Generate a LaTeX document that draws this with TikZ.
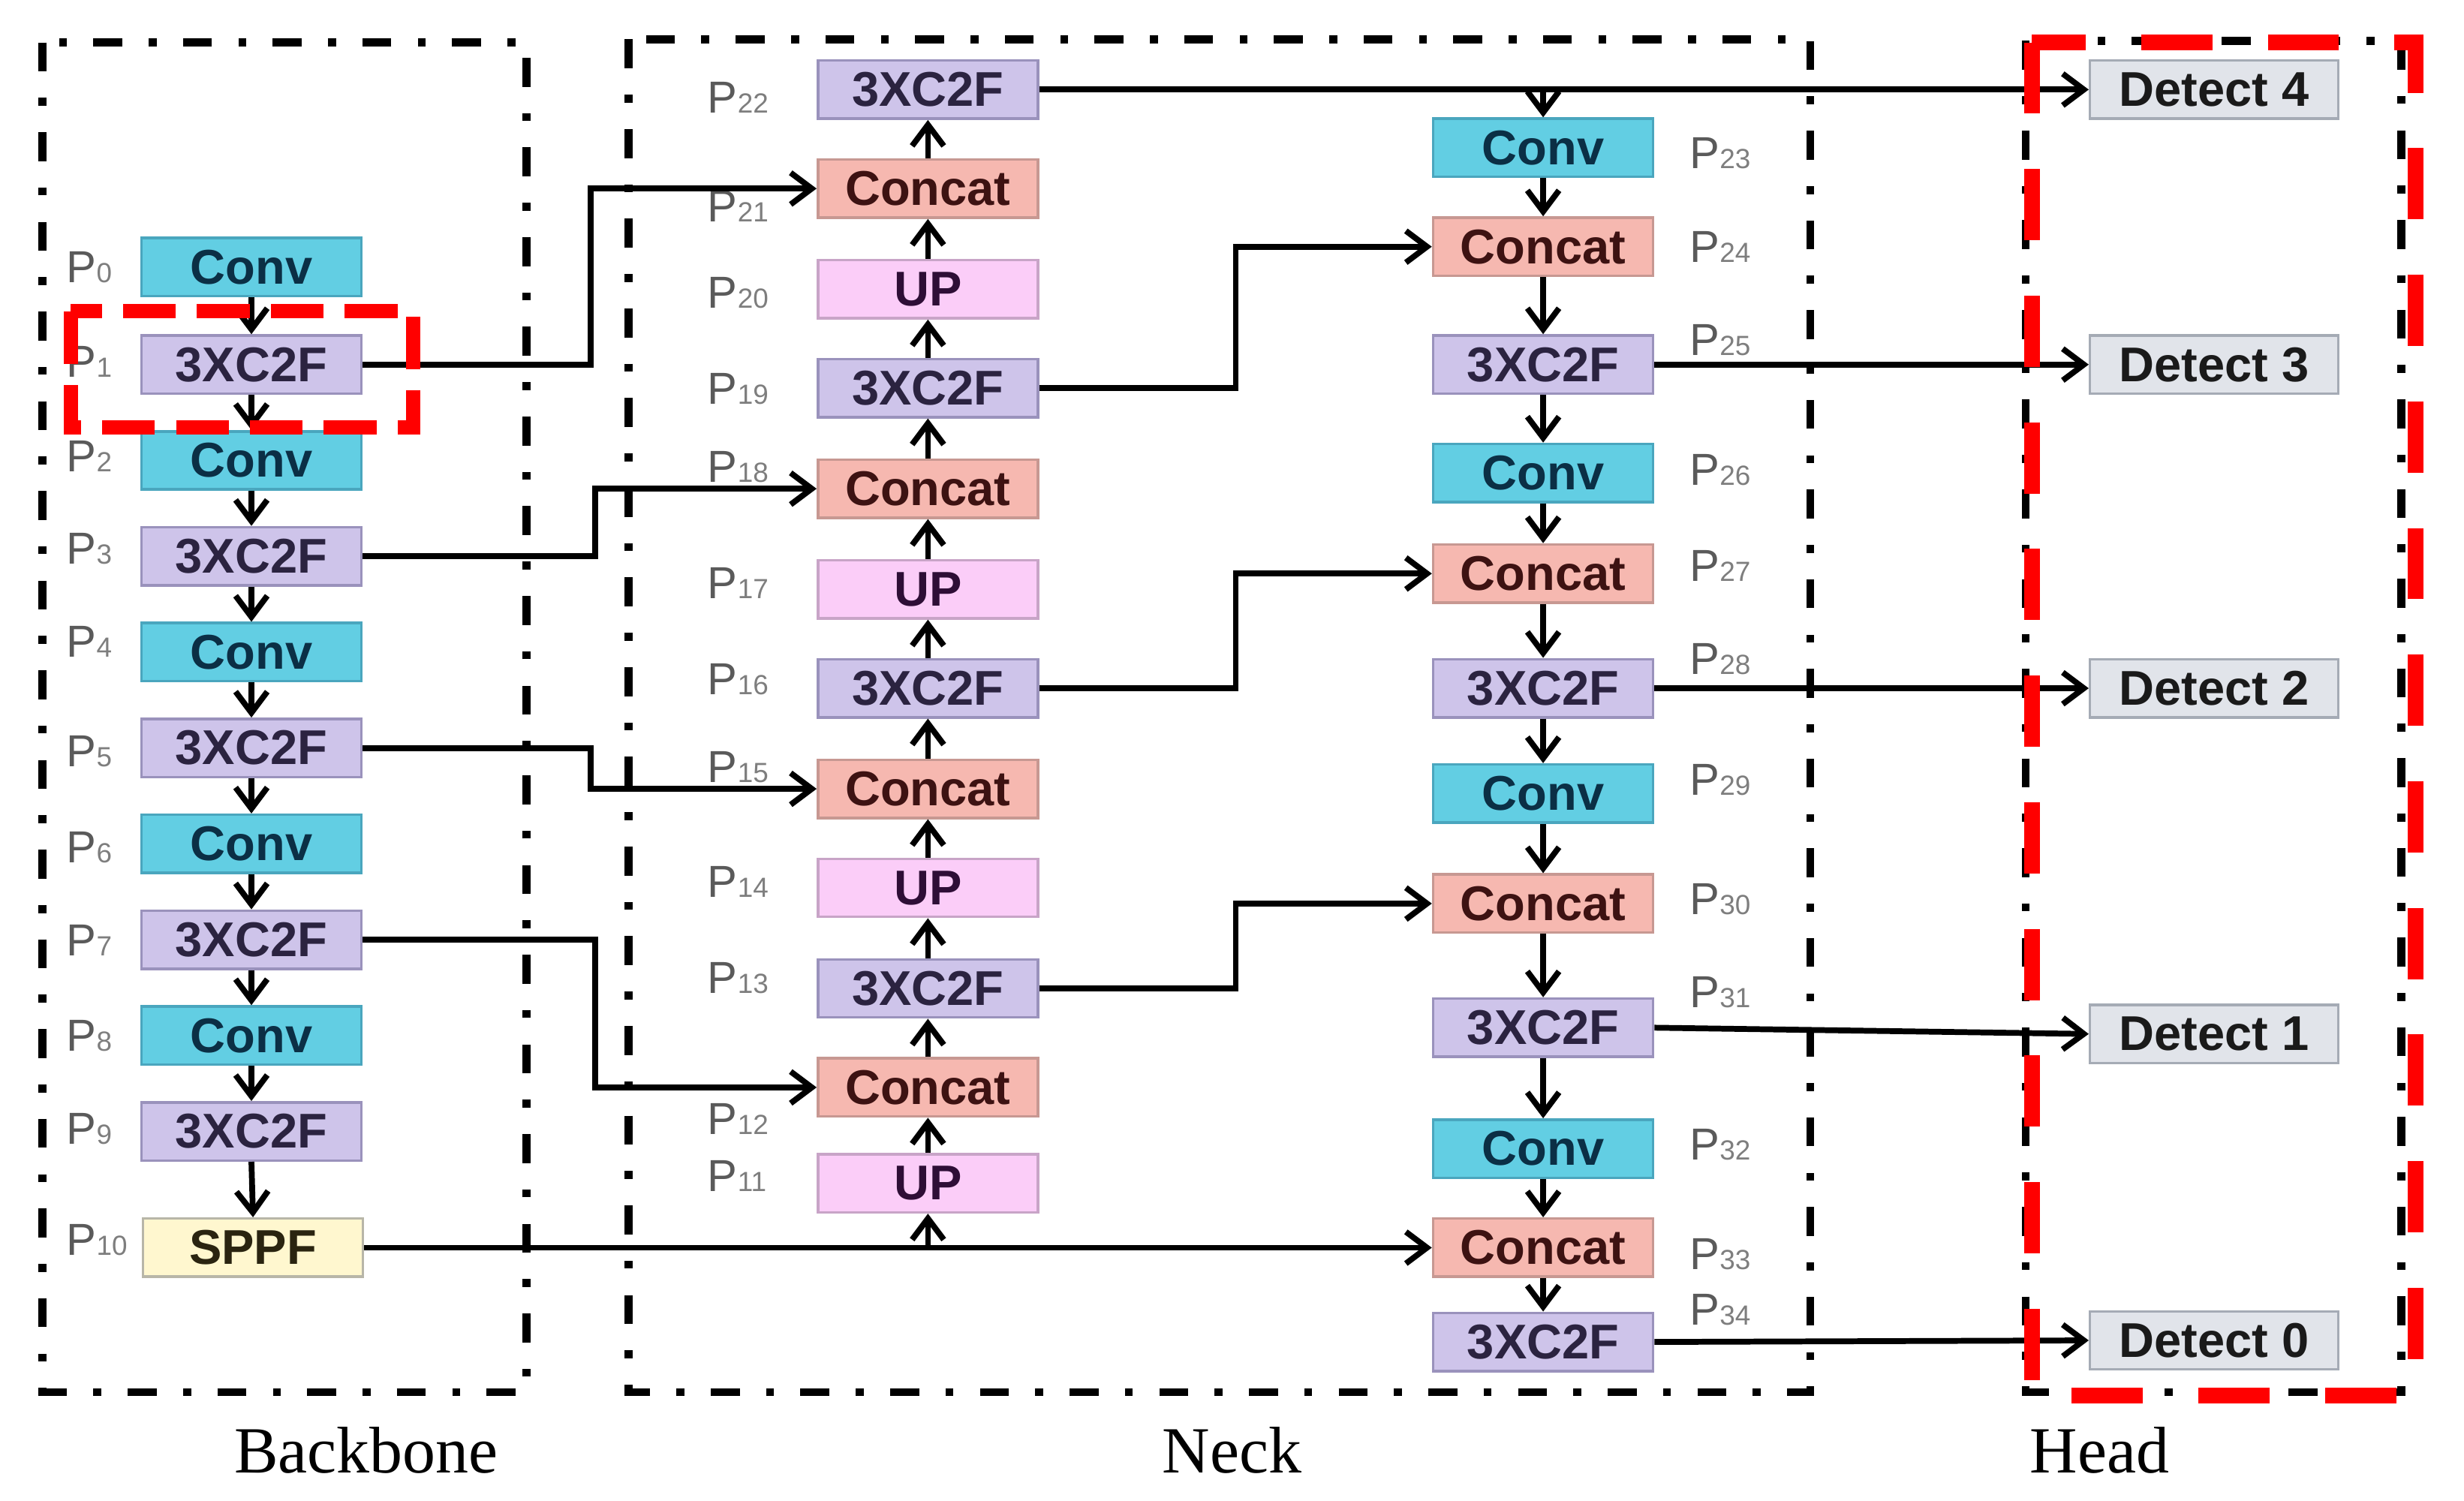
\documentclass[tikz,border=0pt]{standalone}
\usepackage{fontspec}
\setmainfont{Liberation Sans}
\newfontfamily\serifF{Liberation Serif}
\usetikzlibrary{arrows.meta}
\def\pxu{0.020938cm}
\definecolor{convfill}{HTML}{62CEE3}
\definecolor{convdraw}{HTML}{4AA6BE}
\definecolor{convtext}{HTML}{0B2F45}
\definecolor{cffill}{HTML}{CEC4EA}
\definecolor{cfdraw}{HTML}{9A92BC}
\definecolor{cftext}{HTML}{2B2340}
\definecolor{catfill}{HTML}{F6B8B0}
\definecolor{catdraw}{HTML}{C79892}
\definecolor{cattext}{HTML}{3D1212}
\definecolor{upfill}{HTML}{FBCDF8}
\definecolor{updraw}{HTML}{C8A4C7}
\definecolor{uptext}{HTML}{2E0E36}
\definecolor{spfill}{HTML}{FFF7CF}
\definecolor{spdraw}{HTML}{B8B6A8}
\definecolor{sptext}{HTML}{2A2410}
\definecolor{detfill}{HTML}{E1E4EA}
\definecolor{detdraw}{HTML}{A5ABB5}
\definecolor{dettext}{HTML}{1A1A1A}
\definecolor{labgray}{HTML}{5A5A5A}
\definecolor{subgray}{HTML}{7E7E7E}
\newcommand\psub[1]{{\color{subgray}\fontsize{10.5}{10.5}\selectfont #1}}
\tikzset{
  blk/.style={draw=#1, line width=1pt, minimum width=140*\pxu, minimum height=37*\pxu,
    inner sep=0pt, font=\fontsize{18.5}{18.5}\selectfont\bfseries},
  conv/.style={blk=convdraw, fill=convfill, text=convtext},
  cf/.style={blk=cfdraw, fill=cffill, text=cftext},
  cat/.style={blk=catdraw, fill=catfill, text=cattext},
  upb/.style={blk=updraw, fill=upfill, text=uptext},
  spp/.style={blk=spdraw, fill=spfill, text=sptext},
  det/.style={blk=detdraw, fill=detfill, text=dettext, minimum width=158*\pxu},
  arr/.style={line width=2.2pt, -{Straight Barb[length=8pt,width=12pt]}},
  plab/.style={anchor=base west, inner sep=0pt, text=labgray, font=\fontsize{17}{17}\selectfont},
  frame/.style={line width=3pt, dash pattern=on 11pt off 10pt on 3pt off 10pt},
  redhead/.style={draw=red, line width=6pt, dash pattern=on 27pt off 21pt},
  redsmall/.style={draw=red, line width=5.3pt, dash pattern=on 20pt off 8pt},
  part/.style={inner sep=0pt, font=\serifF\fontsize{25}{25}\selectfont},
}
\begin{document}
\begin{tikzpicture}[x=0.020938cm, y=-0.020938cm]
\useasboundingbox (0,0) rectangle (1568,955);
\fill[white] (0,0) rectangle (1568,955);
% ---------- Backbone ----------
\node[conv] (b0) at (160,170) {Conv};
\node[cf]   (b1) at (160,232) {3XC2F};
\node[conv] (b2) at (160,293) {Conv};
\node[cf]   (b3) at (160,354) {3XC2F};
\node[conv] (b4) at (160,415) {Conv};
\node[cf]   (b5) at (160,476) {3XC2F};
\node[conv] (b6) at (160,537) {Conv};
\node[cf]   (b7) at (160,598) {3XC2F};
\node[conv] (b8) at (160,659) {Conv};
\node[cf]   (b9) at (160,720) {3XC2F};
\node[spp]  (b10) at (161,794) {SPPF};
% ---------- Neck column 1 ----------
\node[cf]   (n22) at (590.5,57) {3XC2F};
\node[cat]  (n21) at (590.5,120) {Concat};
\node[upb]  (n20) at (590.5,184) {UP};
\node[cf]   (n19) at (590.5,247) {3XC2F};
\node[cat]  (n18) at (590.5,311) {Concat};
\node[upb]  (n17) at (590.5,375) {UP};
\node[cf]   (n16) at (590.5,438) {3XC2F};
\node[cat]  (n15) at (590.5,502) {Concat};
\node[upb]  (n14) at (590.5,565) {UP};
\node[cf]   (n13) at (590.5,629) {3XC2F};
\node[cat]  (n12) at (590.5,692) {Concat};
\node[upb]  (n11) at (590.5,753) {UP};
% ---------- Neck column 2 ----------
\node[conv] (c23) at (982,94) {Conv};
\node[cat]  (c24) at (982,157) {Concat};
\node[cf]   (c25) at (982,232) {3XC2F};
\node[conv] (c26) at (982,301) {Conv};
\node[cat]  (c27) at (982,365) {Concat};
\node[cf]   (c28) at (982,438) {3XC2F};
\node[conv] (c29) at (982,505) {Conv};
\node[cat]  (c30) at (982,575) {Concat};
\node[cf]   (c31) at (982,654) {3XC2F};
\node[conv] (c32) at (982,731) {Conv};
\node[cat]  (c33) at (982,794) {Concat};
\node[cf]   (c34) at (982,854) {3XC2F};
% ---------- Head ----------
\node[det] (d4) at (1409,57) {Detect 4};
\node[det] (d3) at (1409,232) {Detect 3};
\node[det] (d2) at (1409,438) {Detect 2};
\node[det] (d1) at (1409,658) {Detect 1};
\node[det] (d0) at (1409,853) {Detect 0};
% ---------- Labels ----------
\foreach \i/\yy in {0/180,1/240,2/300,3/359,4/418,5/488,6/549,7/608,8/669,9/728,10/799}
  \node[plab] (lb\i) at (42,\yy) {P\psub{\i}};
\foreach \i/\yy in {22/72,21/141,20/196,19/257,18/307,17/381,16/442,15/498,14/571,13/632,12/722,11/758}
  \node[plab] (lb\i) at (450,\yy) {P\psub{\i}};
\foreach \i/\yy in {23/107,24/167,25/226,26/309,27/370,28/429,29/506,30/582,31/641,32/738,33/808,34/843}
  \node[plab] (lb\i) at (1075,\yy) {P\psub{\i}};
% ---------- Vertical arrows ----------
\foreach \a/\b in {b0/b1,b1/b2,b2/b3,b3/b4,b4/b5,b5/b6,b6/b7,b7/b8,b8/b9,b9/b10}
  \draw[arr] (\a.south) -- (\b.north);
\foreach \a/\b in {n11/n12,n12/n13,n13/n14,n14/n15,n15/n16,n16/n17,n17/n18,n18/n19,n19/n20,n20/n21,n21/n22}
  \draw[arr] (\a.north) -- (\b.south);
\foreach \a/\b in {c23/c24,c24/c25,c25/c26,c26/c27,c27/c28,c28/c29,c29/c30,c30/c31,c31/c32,c32/c33,c33/c34}
  \draw[arr] (\a.south) -- (\b.north);
% ---------- Backbone to neck ----------
\draw[arr] (b1.east) -- ++(145,0) |- (n21.west);
\draw[arr] (b3.east) -- ++(148,0) |- (n18.west);
\draw[arr] (b5.east) -- ++(145,0) |- (n15.west);
\draw[arr] (b7.east) -- ++(148,0) |- (n12.west);
\draw[arr] (b10.east) -- (c33.west);
\draw[arr] (n11.south |- b10.east) -- (n11.south);
% ---------- Column 1 to column 2 ----------
\draw[arr] (n19.east) -- ++(125,0) |- (c24.west);
\draw[arr] (n16.east) -- ++(125,0) |- (c27.west);
\draw[arr] (n13.east) -- ++(125,0) |- (c30.west);
% ---------- To head ----------
\draw[arr] (n22.east) -- (d4.west);
\draw[arr] (c23.north |- n22.east) -- (c23.north);
\draw[arr] (c25.east) -- (d3.west);
\draw[arr] (c28.east) -- (d2.west);
\draw[arr] (c31.east) -- (d1.west);
\draw[arr] (c34.east) -- (d0.west);
% ---------- Frames ----------
\draw[frame] (27,27) rectangle (335,886);
\draw[frame] (400,25) rectangle (1152,886);
\draw[frame] (1289,26) rectangle (1528,886);
\draw[redhead] (1293,27) rectangle (1537,888);
\draw[redsmall] (45,198) rectangle (263,272);
% ---------- Part names ----------
\node[part] (tb) at (233,923) {Backbone};
\node[part] (tn) at (784,923) {Neck};
\node[part] (th) at (1336,923) {Head};
\end{tikzpicture}
\end{document}
